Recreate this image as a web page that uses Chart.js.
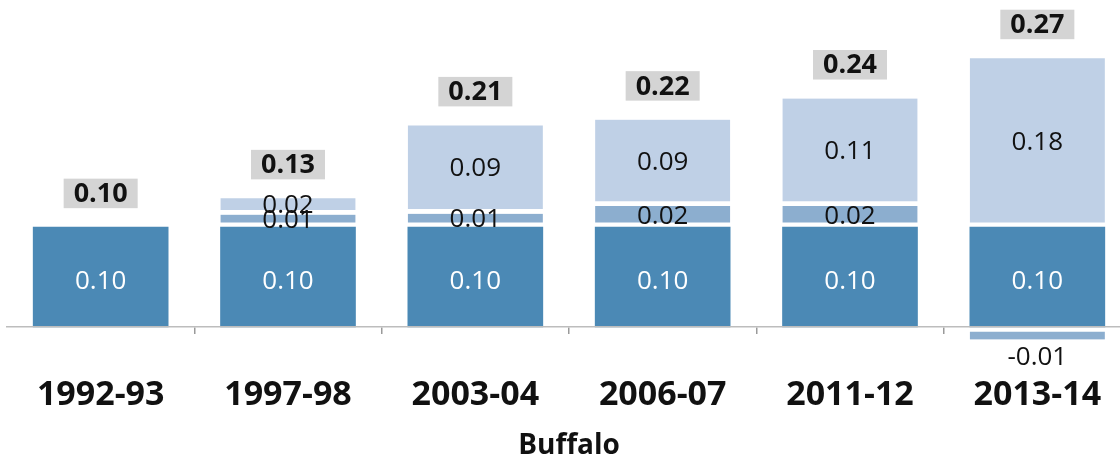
<!DOCTYPE html>
<html>
<head>
<meta charset="utf-8">
<script src="https://cdn.jsdelivr.net/npm/chart.js@4"></script>
<style>
html,body{margin:0;padding:0;overflow:hidden;background:#ffffff;}
#wrap{position:absolute;left:0;top:0;width:1132px;height:458px;}
</style>
</head>
<body>
<div id="wrap"><canvas id="c"></canvas></div>
<script>
// ---- data (printed labels are these values rounded to 2 decimals) ----
const categories = ['1992-93', '1997-98', '2003-04', '2006-07', '2011-12', '2013-14'];
const baseValues = [0.104, 0.104, 0.104, 0.104, 0.104, 0.104];
const midValues  = [null, 0.013, 0.014, 0.022, 0.022, -0.013];
const topValues  = [null, 0.017, 0.092, 0.090, 0.112, 0.176];
const axisTitle = 'Buffalo';

// ---- styling ----
const FONT = '"Open Sans", "Noto Sans", sans-serif';
const COLORS = ['#4b89b5', '#8caecf', '#bfd0e6'];
const GAP = 5;

const totals = categories.map((_, i) =>
  (baseValues[i] || 0) + (midValues[i] || 0) + (topValues[i] || 0));

const gapBorder = (c) => {
  const v = c.raw;
  if (v === null || v === undefined) return 0;
  return v >= 0 ? {top: 0, right: 0, bottom: GAP, left: 0}
                : {top: GAP, right: 0, bottom: 0, left: 0};
};

const labelPlugin = {
  id: 'segLabels',
  afterDatasetsDraw(chart) {
    const ctx = chart.ctx;
    ctx.save();
    ctx.textAlign = 'center';
    const topY = {};
    chart.data.datasets.forEach((ds, di) => {
      const meta = chart.getDatasetMeta(di);
      meta.data.forEach((el, i) => {
        const v = ds.data[i];
        if (v === null || v === undefined) return;
        const p = el.getProps(['x', 'y', 'base'], true);
        ctx.font = '26px ' + FONT;
        ctx.fillStyle = di === 0 ? '#ffffff' : '#111111';
        const txt = v.toFixed(2);
        if (v < 0) {
          ctx.textBaseline = 'top';
          ctx.fillText(txt, p.x, p.y + 5);
        } else {
          const g = di === 0 ? 0 : GAP;
          ctx.textBaseline = 'middle';
          const cy = (p.y + p.base - g) / 2 + (di === 0 ? 5 : 2);
          ctx.fillText(txt, p.x, cy);
          if (topY[i] === undefined || p.y < topY[i]) topY[i] = p.y;
        }
      });
    });
    // totals
    const meta0 = chart.getDatasetMeta(0);
    ctx.font = 'bold 27px ' + FONT;
    totals.forEach((t, i) => {
      const x = meta0.data[i].x;
      const txt = t.toFixed(2);
      const w = ctx.measureText(txt).width + 20;
      const h = 29.5;
      const bottom = topY[i] - 19;
      ctx.fillStyle = '#d4d4d4';
      ctx.fillRect(x - w / 2, bottom - h, w, h);
      ctx.fillStyle = '#111111';
      ctx.textBaseline = 'middle';
      ctx.fillText(txt, x, bottom - h / 2 + 1);
    });
    ctx.restore();
  }
};

const mk = (data, idx) => ({
  data: data,
  backgroundColor: COLORS[idx],
  borderColor: '#ffffff',
  borderWidth: idx === 0 ? 0 : gapBorder,
  borderSkipped: false,
  barThickness: 135,
  clip: false
});

new Chart(document.getElementById('c'), {
  type: 'bar',
  data: {
    labels: categories,
    datasets: [mk(baseValues, 0), mk(midValues, 1), mk(topValues, 2)]
  },
  options: {
    responsive: true,
    maintainAspectRatio: false,
    animation: false,
    layout: {padding: {top: 39, left: 7, right: 1, bottom: 0}},
    plugins: {legend: {display: false}, tooltip: {enabled: false}},
    scales: {
      x: {
        stacked: true,
        offset: true,
        grid: {
          offset: true,
          drawOnChartArea: false,
          drawTicks: true,
          tickLength: 7,
          lineWidth: 1.5,
          color: (c) => c.index === 0 ? 'rgba(0,0,0,0)' : '#9a9a9a'
        },
        border: {display: true, color: '#bdbdbd', width: 1.5, z: 1},
        ticks: {
          color: '#111111',
          padding: 41,
          maxRotation: 0,
          autoSkip: false,
          font: {family: FONT, size: 34, weight: 'bold'}
        },
        title: {
          display: true,
          text: axisTitle,
          color: '#111111',
          font: {family: FONT, size: 28, weight: 'bold', lineHeight: 1},
          padding: {top: 0, bottom: -2}
        },
        afterFit: (scale) => {
          scale.height = 131;
          scale.paddingLeft = 0;
          scale.paddingRight = 0;
        }
      },
      y: {
        stacked: true,
        display: false,
        min: 0,
        max: 0.3
      }
    }
  },
  plugins: [labelPlugin]
});
</script>
</body>
</html>
